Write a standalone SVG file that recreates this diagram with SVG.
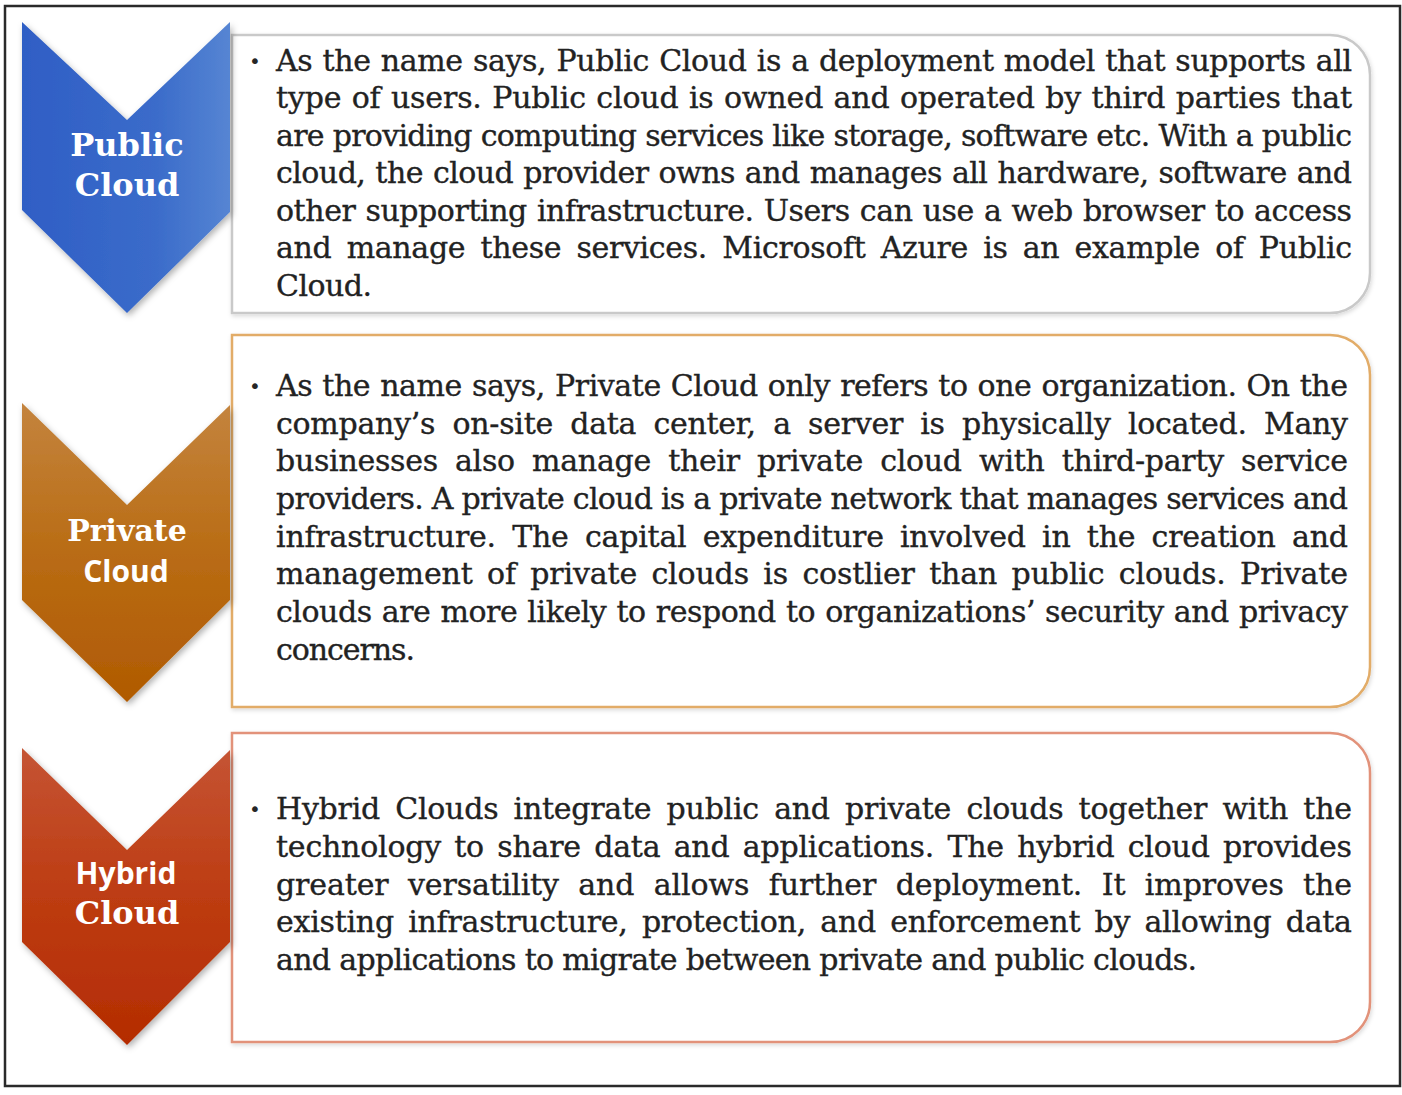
<svg xmlns="http://www.w3.org/2000/svg" width="1402" height="1095" viewBox="0 0 1402 1095">
<style>
.body{font-family:"DejaVu Serif","Liberation Serif",serif;font-size:30px;fill:#222222;stroke:#222222;stroke-width:0.35}
.bul{font-family:"DejaVu Sans",sans-serif;font-size:20px;fill:#262626}
.lblS{font-family:"DejaVu Serif","Liberation Serif",serif;font-weight:bold;fill:#ffffff;text-anchor:middle}
.lblN{font-family:"Open Sans","Liberation Sans",sans-serif;font-weight:bold;font-size:30px;fill:#ffffff;text-anchor:middle}
.box{fill:#ffffff;stroke-width:2.5}
</style>
<defs>
<linearGradient id="gPub" x1="0" y1="0" x2="1" y2="0">
<stop offset="0" stop-color="#2f5ec5"/><stop offset="0.65" stop-color="#3b6cca"/><stop offset="1" stop-color="#5685d3"/>
</linearGradient>
<linearGradient id="gPri" x1="0" y1="0" x2="0" y2="1">
<stop offset="0" stop-color="#c4843e"/><stop offset="0.5" stop-color="#b96c14"/><stop offset="1" stop-color="#b05a02"/>
</linearGradient>
<linearGradient id="gHyb" x1="0" y1="0" x2="0" y2="1">
<stop offset="0" stop-color="#c55434"/><stop offset="0.5" stop-color="#bd3c12"/><stop offset="1" stop-color="#b42c02"/>
</linearGradient>
<filter id="sh" x="-10%" y="-10%" width="130%" height="130%">
<feDropShadow dx="2" dy="3" stdDeviation="3" flood-color="#000" flood-opacity="0.3"/>
</filter>
<filter id="shb" x="-5%" y="-5%" width="110%" height="115%">
<feDropShadow dx="1" dy="2" stdDeviation="2" flood-color="#000" flood-opacity="0.15"/>
</filter>
</defs>
<rect x="5" y="6" width="1395" height="1080" fill="#ffffff" stroke="#2a2a2a" stroke-width="2.5"/>

<g id="public">
<path class="box" filter="url(#shb)" stroke="#c9c9c9" d="M232,35 H1330 A40,40 0 0 1 1370,75 V273 A40,40 0 0 1 1330,313 H232 Z"/>
<path filter="url(#sh)" fill="url(#gPub)" d="M22,22 L127,120 L230,22 L230,212 L127,313 L22,210 Z"/>
<text class="lblS" x="127" y="156" font-size="32">Public</text>
<text class="lblS" x="127" y="196" font-size="32">Cloud</text>
<text class="bul" x="249" y="68">•</text>
<g class="body">
<text x="276" y="71" textLength="1076" lengthAdjust="spacing" word-spacing="1">As the name says, Public Cloud is a deployment model that supports all</text>
<text x="276" y="108" textLength="1076" lengthAdjust="spacing" word-spacing="1">type of users. Public cloud is owned and operated by third parties that</text>
<text x="276" y="146" textLength="1076" lengthAdjust="spacing" word-spacing="0">are providing computing services like storage, software etc. With a public</text>
<text x="276" y="183" textLength="1076" lengthAdjust="spacing" word-spacing="1">cloud, the cloud provider owns and manages all hardware, software and</text>
<text x="276" y="221" textLength="1076" lengthAdjust="spacing" word-spacing="1">other supporting infrastructure. Users can use a web browser to access</text>
<text x="276" y="258" textLength="1076" lengthAdjust="spacing" word-spacing="6">and manage these services. Microsoft Azure is an example of Public</text>
<text x="276" y="296" textLength="96" lengthAdjust="spacing">Cloud.</text>
</g>
</g>

<g id="private">
<path class="box" filter="url(#shb)" stroke="#e2ac68" d="M232,335 H1330 A40,40 0 0 1 1370,375 V667 A40,40 0 0 1 1330,707 H232 Z"/>
<path filter="url(#sh)" fill="url(#gPri)" d="M22,403 L127,505 L230,405 L230,600 L127,702 L22,600 Z"/>
<text class="lblS" x="127" y="541" font-size="30">Private</text>
<text class="lblN" x="126" y="582">Cloud</text>
<text class="bul" x="249" y="393">•</text>
<g class="body">
<text x="276" y="396" textLength="1072" lengthAdjust="spacing" word-spacing="1">As the name says, Private Cloud only refers to one organization. On the</text>
<text x="276" y="434" textLength="1072" lengthAdjust="spacing" word-spacing="8">company’s on-site data center, a server is physically located. Many</text>
<text x="276" y="471" textLength="1072" lengthAdjust="spacing" word-spacing="8">businesses also manage their private cloud with third-party service</text>
<text x="276" y="509" textLength="1072" lengthAdjust="spacing" word-spacing="0">providers. A private cloud is a private network that manages services and</text>
<text x="276" y="547" textLength="1072" lengthAdjust="spacing" word-spacing="7">infrastructure. The capital expenditure involved in the creation and</text>
<text x="276" y="584" textLength="1072" lengthAdjust="spacing" word-spacing="5">management of private clouds is costlier than public clouds. Private</text>
<text x="276" y="622" textLength="1072" lengthAdjust="spacing" word-spacing="1">clouds are more likely to respond to organizations’ security and privacy</text>
<text x="276" y="660" textLength="139" lengthAdjust="spacing">concerns.</text>
</g>
</g>

<g id="hybrid">
<path class="box" filter="url(#shb)" stroke="#e2927a" d="M232,733 H1330 A40,40 0 0 1 1370,773 V1002 A40,40 0 0 1 1330,1042 H232 Z"/>
<path filter="url(#sh)" fill="url(#gHyb)" d="M22,748 L127,850 L230,750 L230,942 L127,1045 L22,942 Z"/>
<text class="lblN" x="126" y="884">Hybrid</text>
<text class="lblS" x="127" y="924" font-size="32">Cloud</text>
<text class="bul" x="249" y="816">•</text>
<g class="body">
<text x="276" y="819" textLength="1076" lengthAdjust="spacing" word-spacing="6">Hybrid Clouds integrate public and private clouds together with the</text>
<text x="276" y="857" textLength="1076" lengthAdjust="spacing" word-spacing="4">technology to share data and applications. The hybrid cloud provides</text>
<text x="276" y="895" textLength="1076" lengthAdjust="spacing" word-spacing="10">greater versatility and allows further deployment. It improves the</text>
<text x="276" y="932" textLength="1076" lengthAdjust="spacing" word-spacing="5">existing infrastructure, protection, and enforcement by allowing data</text>
<text x="276" y="970" textLength="921" lengthAdjust="spacing">and applications to migrate between private and public clouds.</text>
</g>
</g>

<g id="connectors"></g>
</svg>
